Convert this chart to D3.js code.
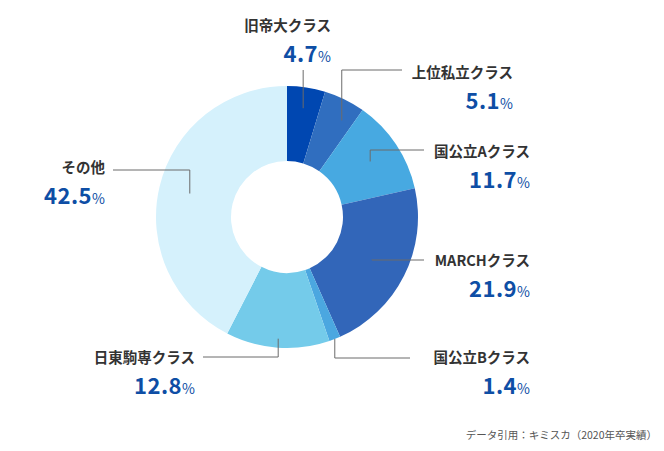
<!DOCTYPE html>
<html>
<head>
<meta charset="utf-8">
<script src="https://cdn.jsdelivr.net/npm/d3@7"></script>
<style>
  body { margin: 0; background: #fff; }
  svg { display: block; }
  text { font-family: "Noto Sans CJK JP", "Noto Sans", sans-serif; }
</style>
</head>
<body>
<svg id="chart" width="664" height="451"></svg>
<script>
// categories, values (percent), slice colours
var categories = ["旧帝大クラス", "上位私立クラス", "国公立Aクラス", "MARCHクラス", "国公立Bクラス", "日東駒専クラス", "その他"];
var values = [4.7, 5.1, 11.7, 21.9, 1.4, 12.8, 42.5];
var colors = ["#0047b1", "#306ebf", "#47a9e1", "#3266b9", "#4ba7e0", "#74cbea", "#d5f1fc"];

// label layout: text right edge, text baseline, line y, line end x, anchor radius, anchor spot in slice
var labelPos = [
  { tx: 331, ty: 31, ly: 70, lx: null, ar: 110, t: 0.5 },
  { tx: 513, ty: 78, ly: 70, lx: 402, ar: 111, t: 0.69 },
  { tx: 530, ty: 157, ly: 150, lx: 424, ar: 100, t: 0.5 },
  { tx: 530, ty: 266, ly: 260, lx: 424, ar: 95, t: 0.5 },
  { tx: 530, ty: 363, ly: 358, lx: 410, ar: 131, t: 0.5 },
  { tx: 195, ty: 363, ly: 357, lx: 203, ar: 122, t: 0.5 },
  { tx: 105, ty: 173, ly: 170, lx: 113, ar: 100, t: 0.5 }
];

var cx = 287, cy = 217, outerR = 131, innerR = 56;

var svg = d3.select("#chart");
var g = svg.append("g").attr("transform", "translate(" + cx + "," + cy + ")");

var data = categories.map(function (c, i) { return { name: c, value: values[i], color: colors[i], pos: labelPos[i] }; });

var pie = d3.pie().value(function (d) { return d.value; }).sort(null);
var arc = d3.arc().innerRadius(innerR).outerRadius(outerR);
var arcs = pie(data);

g.selectAll("path.slice")
  .data(arcs)
  .enter()
  .append("path")
  .attr("class", "slice")
  .attr("d", arc)
  .attr("fill", function (d) { return d.data.color; });

// leader lines
arcs.forEach(function (d) {
  var p = d.data.pos;
  var a = d.startAngle + (d.endAngle - d.startAngle) * p.t;
  var ax = cx + p.ar * Math.sin(a);
  var ay = cy - p.ar * Math.cos(a);
  var pts = [[ax, ay], [ax, p.ly]];
  if (p.lx != null) pts.push([p.lx, p.ly]);
  svg.append("path")
    .attr("d", d3.line()(pts))
    .attr("fill", "none")
    .attr("stroke", "#6b6b6b")
    .attr("stroke-width", 1);
});

// labels
var lab = svg.selectAll("g.lab")
  .data(data)
  .enter()
  .append("g")
  .attr("class", "lab");

lab.append("text")
  .attr("x", function (d) { return d.pos.tx; })
  .attr("y", function (d) { return d.pos.ty; })
  .attr("text-anchor", "end")
  .attr("font-size", "14.5px")
  .attr("font-weight", "bold")
  .attr("fill", "#333")
  .text(function (d) { return d.name; });

var num = lab.append("text")
  .attr("x", function (d) { return d.pos.tx; })
  .attr("y", function (d) { return d.pos.ty + 31; })
  .attr("text-anchor", "end")
  .attr("font-weight", "bold")
  .attr("fill", "#0e4ea5");
num.append("tspan")
  .attr("font-size", "22px")
  .attr("letter-spacing", "0.5px")
  .text(function (d) { return d3.format(".1f")(d.value); });
num.append("tspan")
  .attr("font-size", "14px")
  .attr("font-weight", "normal")
  .text("%");

svg.append("text")
  .attr("x", 657)
  .attr("y", 439)
  .attr("text-anchor", "end")
  .attr("font-size", "10.5px")
  .attr("fill", "#555")
  .text("データ引用：キミスカ（2020年卒実績）");
</script>
</body>
</html>
